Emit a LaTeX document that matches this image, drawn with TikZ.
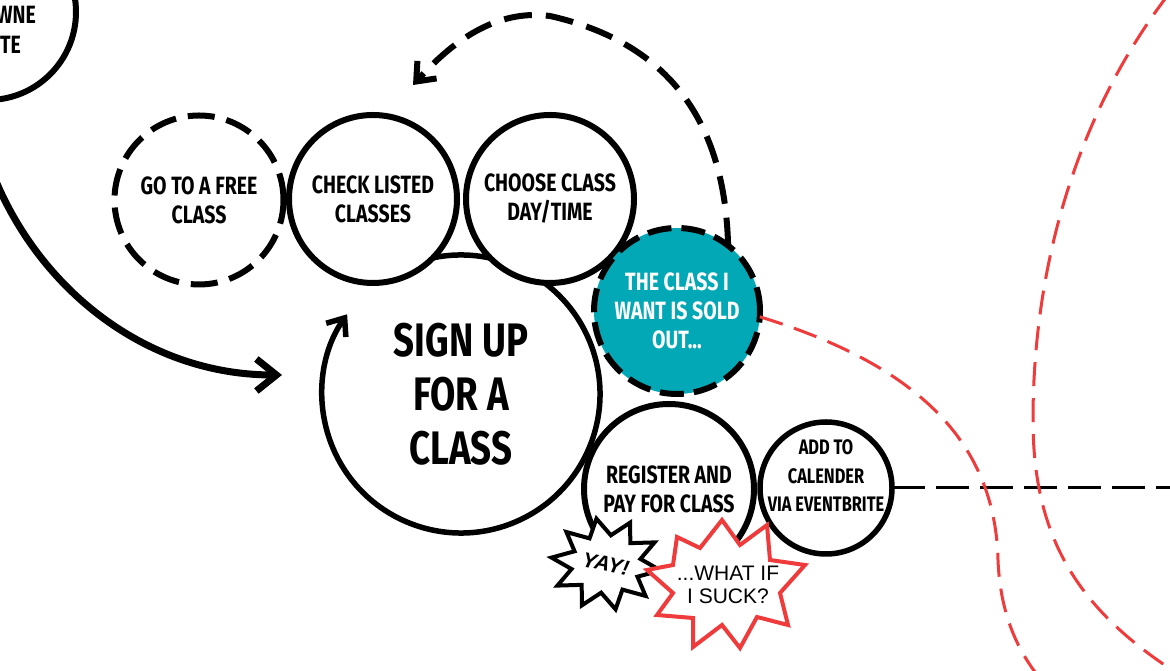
\documentclass[tikz,border=0pt]{standalone}
\usepackage{fontspec}
\setmainfont{Liberation Sans}
\newfontfamily\headfont{Fira Sans}[FakeStretch=0.78]
\usetikzlibrary{arrows.meta}
\definecolor{soldteal}{RGB}{2,168,181}
\definecolor{worryred}{RGB}{239,59,59}

\begin{document}
\begin{tikzpicture}[x=1pt, y=1pt,
    bubble/.style={circle, draw, line width=6pt, fill=white, inner sep=0pt, outer sep=0pt, align=center,
        font=\headfont\bfseries\fontsize{25}{29}\selectfont},
    maybe/.style={bubble, dash pattern=on 27pt off 12pt},
    headtext/.style={inner sep=0pt, align=center, font=\headfont\bfseries\fontsize{25}{29}\selectfont},
    burstline/.style={draw, fill=white, line width=4pt, line join=miter},
    arrow/.style={-{Straight Barb[length=20pt, width=32pt]}, line width=7pt},
    redline/.style={worryred, line width=3pt, dash pattern=on 24pt off 12pt},
    blackline/.style={line width=3pt, dash pattern=on 33pt off 11pt}
]
\useasboundingbox (0,0) rectangle (1170,671);
\clip (0,0) rectangle (1170,671);

% way in from the website
\node[bubble, minimum size=176] (website) at (-12,659) {};
\node[headtext, anchor=east] (webtop) at (36,656) {WNE};
\node[headtext, anchor=east] (webbottom) at (21,626) {TE};
\coordinate (entry) at (282,296);
\draw[arrow] (website.-100) .. controls (-5,421) and (120,296) .. (entry);

% sign up loop
\node[circle, minimum size=278, inner sep=0pt, outer sep=0pt, align=center,
    font=\headfont\bfseries\fontsize{47}{54}\selectfont] (signup) at (461,277) {SIGN UP\\FOR A\\CLASS};
\draw[-{Straight Barb[length=15pt, width=24pt]}, line width=5.5pt]
    (signup.115) arc[start angle=115, end angle=-215, radius=139];

% steps
\node[maybe, minimum size=169] (free) at (199,471) {GO TO A FREE\\CLASS};
\node[bubble, minimum size=168] (check) at (373,472) {CHECK LISTED\\CLASSES};
\node[bubble, minimum size=168] (choose) at (550,472) {CHOOSE CLASS\\DAY/TIME};
\node[bubble, dash pattern=on 24pt off 10pt, fill=soldteal, text=white, minimum size=166] (soldout) at (677,360)
    {THE CLASS I\\WANT IS SOLD\\OUT...};
\node[bubble, minimum size=170] (register) at (669,182) {REGISTER AND\\PAY FOR CLASS};
\node[bubble, line width=5.5pt, minimum size=132] (calendar) at (826,183) {};
\node[headtext, font=\headfont\bfseries\fontsize{21}{28.5}\selectfont] (caltext) at ([yshift=12pt]calendar.center)
    {ADD TO\\CALENDER\\VIA EVENTBRITE};

% sold out -> back to listed classes
\coordinate (retry) at (413,586);
\draw[-{Straight Barb[length=16pt, width=26pt]}, line width=6pt, dash pattern=on 28pt off 14pt]
    (soldout.52) .. controls (725,548) and (670,628) .. (550,655)
    .. controls (490,663) and (445,621) .. (retry);

% feelings
\coordinate (yayc) at (606,107);
\draw[burstline, shift={(yayc)}] plot[domain=0:19, samples=20, variable=\k]
    ({(55-20*mod(\k,2))*cos(100+\k*18)}, {(46-17*mod(\k,2))*sin(100+\k*18)}) -- cycle;
\node[rotate=-12, inner sep=0pt, font=\bfseries\itshape\fontsize{21}{24}\selectfont] (yay) at (yayc) {YAY!};

\draw[burstline, draw=worryred] plot coordinates {(722,151) (740,126) (767,146) (770,111) (805,106) (780,78)
    (788,46) (757,54) (740,23) (722,46) (693,24) (693,53) (657,56) (673,78) (647,101) (673,106)
    (677,134) (700,123)} -- cycle;
\node[inner sep=0pt, align=center, font=\fontsize{21}{23}\selectfont] (suck) at (728,86) {...WHAT IF\\I SUCK?};

% timeline lines
\coordinate (rightedge) at (1172,183);
\draw[blackline] (calendar.east) -- (rightedge);
\draw[redline] (soldout.-4) .. controls (900,311) and (995,241) .. (998,111)
    .. controls (1000,61) and (1015,26) .. (1035,-1);
\draw[redline] (1168,676) .. controls (1080,561) and (1033,411) .. (1033,251)
    .. controls (1033,131) and (1080,61) .. (1175,-1);

\end{tikzpicture}
\end{document}
